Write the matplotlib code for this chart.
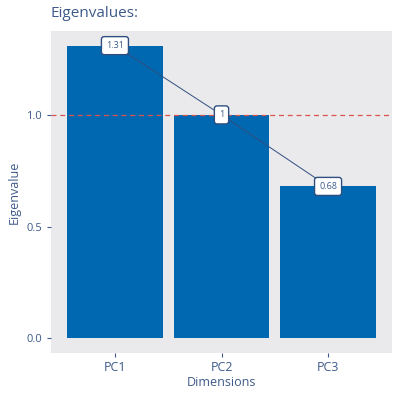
import matplotlib
matplotlib.use("Agg")
import matplotlib.pyplot as plt

# données
dims = ["PC1", "PC2", "PC3"]
eigen = [1.31, 1.0, 0.68]
etiquettes = ["1.31", "1", "0.68"]

bleu = "#0068B0"
texte = "#3D5A8A"
plt.rcParams["font.family"] = ["Open Sans", "DejaVu Sans"]

fig = plt.figure(figsize=(4, 4), dpi=100)
ax = fig.add_axes([0.1275, 0.1175, 0.8525, 0.805])
ax.set_facecolor("#EAEAEC")

x = list(range(len(dims)))
ax.bar(x, eigen, width=0.9, color=bleu, zorder=2)

# ligne reliant les sommets
ax.plot(x, eigen, color="#2F4F80", lw=0.7, zorder=3)

# seuil de Kaiser
ax.axhline(1.0, color="#D9534F", lw=0.9, ls=(0, (4, 3)), zorder=2.5)

for xi, v, lab in zip(x, eigen, etiquettes):
    ax.text(xi, v, lab, ha="center", va="center", fontsize=6.5, color=texte, zorder=5,
            bbox=dict(boxstyle="round,pad=0.5,rounding_size=0.3", fc="white",
                      ec="#2F4F80", lw=1.0))

ax.set_xlim(-0.6, 2.6)
ax.set_ylim(-0.0655, 1.3755)
ax.set_xticks(x)
ax.set_xticklabels(dims)
ax.set_yticks([0.0, 0.5, 1.0])
ax.set_yticklabels(["0.0", "0.5", "1.0"])
ax.tick_params(axis="both", colors=texte, labelcolor=texte, length=3, width=0.8)
ax.tick_params(axis="x", labelsize=9, pad=3)
ax.tick_params(axis="y", labelsize=8)
for s in ax.spines.values():
    s.set_visible(False)

ax.set_xlabel("Dimensions", color=texte, fontsize=9, labelpad=1)
ax.set_ylabel("Eigenvalue", color=texte, fontsize=9, labelpad=4)
fig.text(0.1275, 0.967, "Eigenvalues:", color=texte, fontsize=11, ha="left", va="center")

fig.savefig("out.png", dpi=100)
